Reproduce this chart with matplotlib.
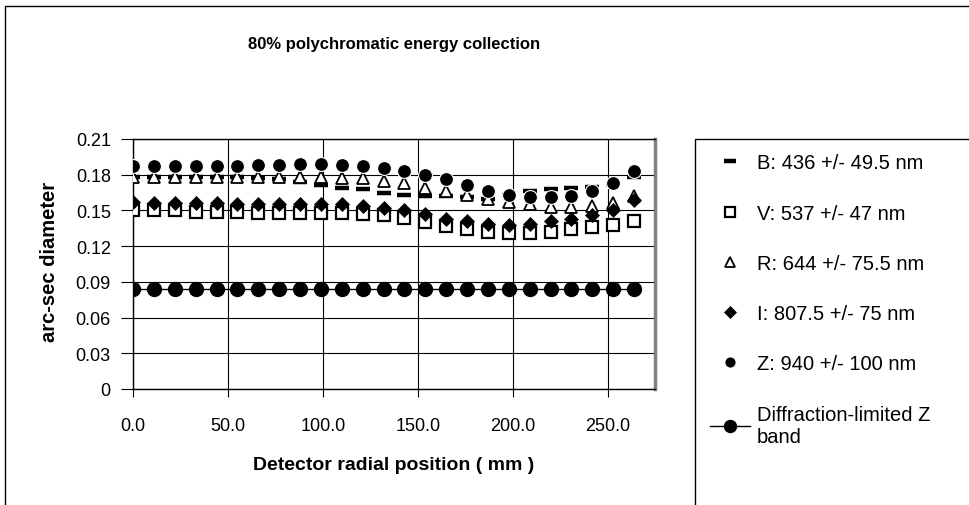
import numpy as np
import matplotlib
matplotlib.use("Agg")
import matplotlib.pyplot as plt
from matplotlib.patches import Rectangle

plt.rcParams['font.family'] = ['Liberation Sans', 'DejaVu Sans']

# ── data ────────────────────────────────────────────────────────
radial_mm = [0, 11, 22, 33, 44, 55, 66, 77, 88, 99, 110, 121, 132,
             143, 154, 165, 176, 187, 198, 209, 220, 231, 242, 253, 264]

b_band = [0.178, 0.178, 0.178, 0.178, 0.178, 0.178, 0.177, 0.176, 0.174,
          0.171, 0.169, 0.168, 0.165, 0.163, 0.162, 0.162, 0.161, 0.160,
          0.163, 0.166, 0.168, 0.169, 0.170, 0.172, 0.178]
v_band = [0.150, 0.150, 0.150, 0.149, 0.149, 0.149, 0.148, 0.148, 0.148,
          0.148, 0.148, 0.147, 0.146, 0.144, 0.140, 0.137, 0.134, 0.132,
          0.131, 0.131, 0.132, 0.134, 0.136, 0.138, 0.141]
r_band = [0.178, 0.178, 0.178, 0.178, 0.178, 0.178, 0.178, 0.178, 0.178,
          0.178, 0.177, 0.177, 0.175, 0.173, 0.169, 0.166, 0.163, 0.160,
          0.157, 0.155, 0.153, 0.153, 0.154, 0.156, 0.162]
i_band = [0.157, 0.156, 0.156, 0.156, 0.156, 0.155, 0.155, 0.155, 0.155,
          0.155, 0.155, 0.154, 0.152, 0.150, 0.147, 0.143, 0.141, 0.139,
          0.138, 0.139, 0.141, 0.143, 0.146, 0.150, 0.159]
z_band = [0.187, 0.187, 0.187, 0.187, 0.187, 0.187, 0.188, 0.188, 0.189,
          0.189, 0.188, 0.187, 0.186, 0.183, 0.180, 0.176, 0.171, 0.166,
          0.163, 0.161, 0.161, 0.162, 0.166, 0.173, 0.183]
diff_z = [0.084] * 25

labels = ["B: 436 +/- 49.5 nm", "V: 537 +/- 47 nm", "R: 644 +/- 75.5 nm",
          "I: 807.5 +/- 75 nm", "Z: 940 +/- 100 nm",
          "Diffraction-limited Z\nband"]
y_ticks = [0, 0.03, 0.06, 0.09, 0.12, 0.15, 0.18, 0.21]
x_ticks = [0, 50, 100, 150, 200, 250]

# ── figure ───────────────────────────────────────────────────────
W, H = 969, 506
fig = plt.figure(figsize=(W / 100, H / 100), dpi=100)
ax = fig.add_axes([133 / W, 1 - 390 / H, (655 - 133) / W, (390 - 140) / H])

# outer chart border and legend box (both run off the right/bottom edge)
fig.patches.append(Rectangle((5 / W, -0.1), 1.2, 1 - 7 / H + 0.1,
                             transform=fig.transFigure, fill=False,
                             edgecolor='black', linewidth=1))
fig.patches.append(Rectangle((695 / W, -0.1), 1.0, 1 - 140 / H + 0.1,
                             transform=fig.transFigure, fill=False,
                             edgecolor='black', linewidth=1))

ax.plot(radial_mm, b_band, linestyle='none', marker='_', ms=9.5, mew=3.2,
        color='black', label=labels[0], zorder=3)
ax.plot(radial_mm, v_band, linestyle='none', marker='s', ms=8.5, mew=1.6,
        mfc='white', mec='black', label=labels[1], zorder=4)
ax.plot(radial_mm, r_band, linestyle='none', marker='^', ms=9, mew=1.3,
        mfc='white', mec='black', label=labels[2], zorder=5)
ax.plot(radial_mm, i_band, linestyle='none', marker='D', ms=7.5, mew=0.5,
        mfc='black', mec='black', label=labels[3], zorder=6)
ax.plot(radial_mm, z_band, linestyle='none', marker='o', ms=10, mew=0.8,
        mfc='black', mec='white', label=labels[4], zorder=7)
ax.plot(radial_mm, diff_z, linestyle='-', linewidth=1, marker='o', ms=10,
        color='black', label=labels[5], zorder=8)

ax.set_xlim(0, 275)
ax.set_ylim(0, 0.21)
ax.set_xticks(x_ticks)
ax.set_xticklabels([f"{v:.1f}" for v in x_ticks])
ax.set_yticks(y_ticks)
ax.set_yticklabels(["0"] + [f"{v:.2f}" for v in y_ticks[1:]])
ax.grid(True, color='black', linewidth=0.8)
ax.set_axisbelow(True)
ax.tick_params(axis='both', direction='out', width=0.8, labelsize=13)
ax.tick_params(axis='x', length=6, pad=14)
ax.tick_params(axis='y', length=9, pad=7)

for side in ['left', 'bottom', 'top']:
    ax.spines[side].set_color('black')
    ax.spines[side].set_linewidth(1)
ax.spines['right'].set_color('#808080')
ax.spines['right'].set_linewidth(2.5)

ax.set_xlabel("Detector radial position ( mm )", fontsize=14,
              fontweight='bold', labelpad=16)
ax.set_ylabel("arc-sec diameter", fontsize=14.5, fontweight='bold')
ax.yaxis.set_label_coords(-0.142, 0.512)
fig.text((133 + 655) / 2 / W, 1 - 45 / H,
         "80% polychromatic energy collection", fontsize=12,
         fontweight='bold', ha='center', va='center')

leg = ax.legend(loc='upper left',
                bbox_to_anchor=(695 / W, -0.2, (1000 - 695) / W,
                                1.2 - 140 / H),
                bbox_transform=fig.transFigure, borderaxespad=0,
                mode='expand', fontsize=14.5, numpoints=1,
                labelspacing=1.55, handlelength=2.0, handletextpad=0.35,
                borderpad=0.72, frameon=False)
small = [8.5, 7.2, 7.5, 6.5, 6.5, 8.6]
for h, s in zip(leg.legend_handles, small):
    h.set_markersize(s)
leg.legend_handles[4].set_markeredgecolor('black')

fig.savefig("out.png", dpi=100)
